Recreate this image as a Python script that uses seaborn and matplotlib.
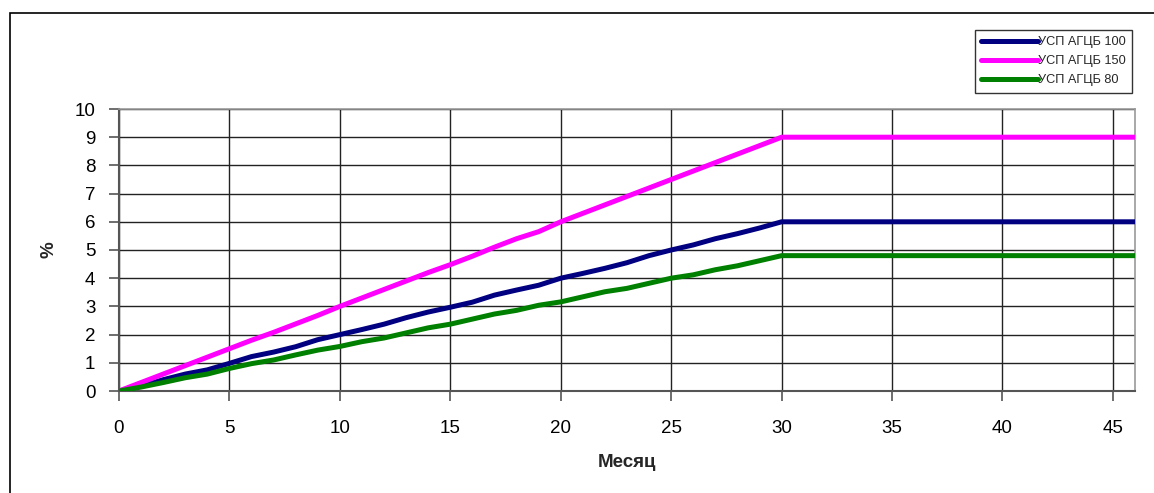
import numpy as np
import pandas as pd
import matplotlib
matplotlib.use("Agg")
import matplotlib.pyplot as plt
import seaborn as sns
from matplotlib.patches import Rectangle
from matplotlib.lines import Line2D

sns.set_style("white", {"xtick.bottom": True, "ytick.left": True})
plt.rcParams["font.family"] = ["Liberation Sans", "DejaVu Sans"]

months = list(range(0, 47))

usp_100 = [0.0, 0.17, 0.4, 0.6, 0.75, 0.98, 1.22, 1.38, 1.57, 1.82, 2.0,
           2.18, 2.37, 2.6, 2.8, 2.97, 3.15, 3.4, 3.58, 3.75, 4.0,
           4.17, 4.35, 4.55, 4.8, 5.0, 5.18, 5.4, 5.58, 5.78, 6.0] + [6.0] * 16
usp_150 = [0.0, 0.3, 0.6, 0.9, 1.2, 1.5, 1.8, 2.08, 2.38, 2.68, 3.0,
           3.3, 3.6, 3.9, 4.2, 4.48, 4.78, 5.1, 5.4, 5.65, 6.0,
           6.3, 6.6, 6.9, 7.2, 7.5, 7.8, 8.1, 8.4, 8.7, 9.0] + [9.0] * 16
usp_80 = [0.0, 0.14, 0.3, 0.47, 0.6, 0.8, 0.97, 1.1, 1.28, 1.45, 1.58,
          1.75, 1.88, 2.06, 2.24, 2.37, 2.55, 2.73, 2.86, 3.04, 3.16,
          3.34, 3.52, 3.64, 3.82, 4.0, 4.12, 4.3, 4.44, 4.62, 4.8] + [4.8] * 16

series_names = ["УСП АГЦБ 100", "УСП АГЦБ 150", "УСП АГЦБ 80"]
series_colors = ["#000080", "#FF00FF", "#008000"]

df = pd.DataFrame({
    "Месяц": months * 3,
    "value": usp_100 + usp_150 + usp_80,
    "series": [series_names[0]] * 47 + [series_names[1]] * 47 + [series_names[2]] * 47,
})

fig = plt.figure(figsize=(11.54, 4.93), dpi=100)
ax = fig.add_axes([119 / 1154, 1 - 391 / 493, (1135 - 119) / 1154, (391 - 109) / 493])

sns.lineplot(data=df, x="Месяц", y="value", hue="series",
             palette=dict(zip(series_names, series_colors)),
             linewidth=3.6, ax=ax, legend=False, zorder=3)

ax.set_xlim(0, 46)
ax.set_ylim(0, 10)
ax.set_xticks(range(0, 46, 5))
ax.set_yticks(range(0, 11))
ax.grid(True, color="#222222", linewidth=1.0)
ax.set_axisbelow(True)
for side in ["left", "bottom"]:
    ax.spines[side].set_color("#555555")
    ax.spines[side].set_linewidth(1.5)
for side in ["top", "right"]:
    ax.spines[side].set_color("#999999")
    ax.spines[side].set_linewidth(1.2)

ax.tick_params(axis="both", which="major", bottom=True, left=True,
               direction="out", length=7, width=1.2, color="#555555",
               labelsize=13.5, labelcolor="black")
ax.tick_params(axis="x", pad=14)
ax.tick_params(axis="y", pad=10)
ax.set_xlabel("Месяц", fontsize=13.5, fontweight="bold", labelpad=12)
ax.set_ylabel("%", fontsize=13.5, fontweight="bold", labelpad=12)

# Legend box in figure space
handles = [Line2D([0], [0], color=c, linewidth=3.6, solid_capstyle="round") for c in series_colors]
leg = fig.legend(handles, series_names, loc="upper left",
                 bbox_to_anchor=(975 / 1154, 1 - 30 / 493),
                 fontsize=9.2, frameon=True, fancybox=False,
                 edgecolor="black", handlelength=4.4, handletextpad=0.05,
                 borderpad=0.5, labelspacing=0.55, borderaxespad=0)
leg.get_frame().set_linewidth(1.0)

# Outer frame around the chart
fig.patches.append(Rectangle((10 / 1154, -0.05), 1.2, 1 - 13 / 493 + 0.05,
                             transform=fig.transFigure, fill=False,
                             edgecolor="black", linewidth=1.2))

fig.savefig("out.png", dpi=100)
